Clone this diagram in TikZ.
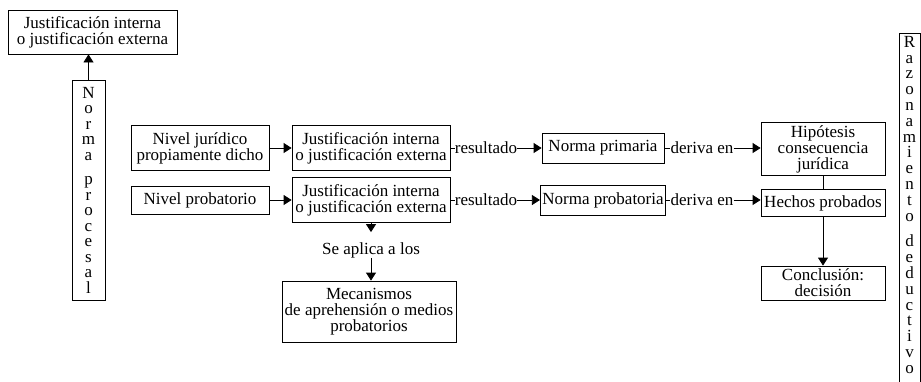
\documentclass[tikz,border=0pt]{standalone}
\usepackage{fontspec}
\setmainfont{Liberation Serif}
\usetikzlibrary{arrows.meta}
\begin{document}
\begin{tikzpicture}[x=1pt,y=-1pt,
  every node/.style={font=\fontsize{17}{16}\selectfont, inner sep=0pt},
  box/.style={draw, line width=0.8pt, align=center, inner xsep=2pt},
  arr/.style={-{Triangle[width=10pt,length=8pt]}, line width=0.8pt},
  ln/.style={line width=0.8pt},
  vert/.style={box, font=\fontsize{17}{15.5}\selectfont}
]
\useasboundingbox (0,0) rectangle (921,381);

% left column
\node[box, minimum width=169, minimum height=44] (tl) at (92.5,32) {Justificación interna\\o justificación externa};
\node[vert, minimum width=33, minimum height=220] (np) at (88.5,190) {N\\o\\r\\m\\a\\[9pt]p\\r\\o\\c\\e\\s\\a\\l};
\draw[arr] (np.north) -- (np.north |- tl.south);

% row 1
\node[box, minimum width=138, minimum height=45] (nj) at (200,148) {Nivel jurídico\\propiamente dicho};
\node[box, minimum width=158, minimum height=45] (j1) at (371,148) {Justificación interna\\o justificación externa};
\node (r1) at (486,148) {resultado};
\node[box, minimum width=122, minimum height=30] (npr) at (603,148) {Norma primaria};
\node (d1) at (702,148) {deriva en};
\node[box, minimum width=124, minimum height=53] (hip) at (823,149) {Hipótesis\\consecuencia\\jurídica};

% row 2
\node[box, minimum width=138, minimum height=28] (npb) at (200,200) {Nivel probatorio};
\node[box, minimum width=158, minimum height=45] (j2) at (371,200) {Justificación interna\\o justificación externa};
\node (r2) at (486,200) {resultado};
\node[box, minimum width=122, minimum height=30] (npt) at (603,200) {Norma probatoria};
\node (d2) at (702,200) {deriva en};
\node[box, minimum width=124, minimum height=27] (hech) at (823,203) {Hechos probados};

% lower
\node (sa) at (371,250) {Se aplica a los};
\node[box, minimum width=174, minimum height=61] (mec) at (369,311.5) {Mecanismos\\de aprehensión o medios\\probatorios};
\node[box, minimum width=124, minimum height=34] (conc) at (823,283) {Conclusión:\\decisión};

% right column (box runs past the bottom edge)
\node[draw, line width=0.8pt, minimum width=21, minimum height=360, anchor=north] (rz) at (909.5,33) {};
\node[anchor=north, align=center, font=\fontsize{17}{15.8}\selectfont] (rzt) at (909.5,36) {R\\a\\z\\o\\n\\a\\m\\i\\e\\n\\t\\o\\[10pt]d\\e\\d\\u\\c\\t\\i\\v\\o};

% connectors
\draw[arr] (nj) -- (j1);
\draw[ln] (j1) -- (r1);
\draw[arr] (r1) -- (npr);
\draw[ln] (npr) -- (d1);
\draw[arr] (d1.east) -- (d1.east -| hip.west);

\draw[arr] (npb) -- (j2);
\draw[ln] (j2) -- (r2);
\draw[arr] (r2) -- (npt);
\draw[ln] (npt) -- (d2);
\draw[arr] (d2.east) -- (d2.east -| hech.west);

\draw[arr, shorten >=10pt] (j2.south) -- (j2.south |- sa.north);
\draw[arr] (sa.south) -- (sa.south |- mec.north);

\draw[ln] (hip) -- (hech);
\draw[arr] (hech) -- (conc);
\end{tikzpicture}
\end{document}
